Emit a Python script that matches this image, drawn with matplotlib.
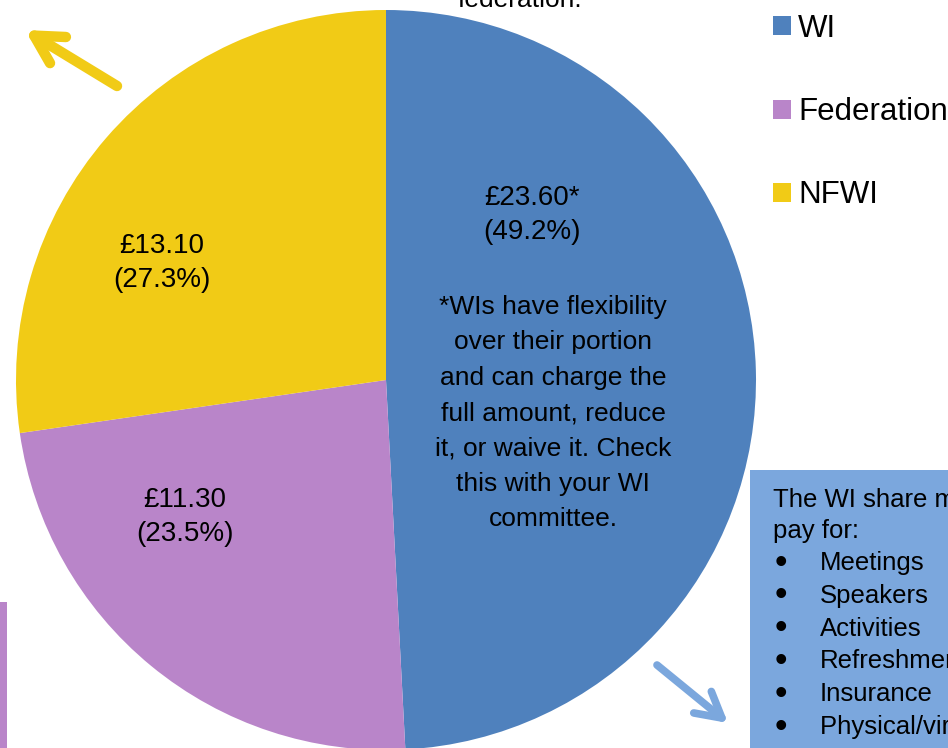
import matplotlib.pyplot as plt
from matplotlib.patches import Rectangle

plt.rcParams['font.family'] = ['Liberation Sans', 'DejaVu Sans']

# subscription split
shares = ['WI', 'Federation', 'NFWI']
amounts = [23.60, 11.30, 13.10]
colours = ['#4f81bd', '#b985c9', '#f1cb16']
note = ("*WIs have flexibility\nover their portion\nand can charge the\n"
        "full amount, reduce\nit, or waive it. Check\nthis with your WI\ncommittee.")
box_items = ['Meetings', 'Speakers', 'Activities', 'Refreshments', 'Insurance',
             'Physical/virtual venue']

W, H = 948, 748


def Y(y):
    # pixel row from the top -> data y
    return H - y


fig = plt.figure(figsize=(W / 100, H / 100), dpi=100)
ax = fig.add_axes([0, 0, 1, 1])

cx, cy, r = 386, 380, 370
wedges, _ = ax.pie(amounts, colors=colours, startangle=90, counterclock=False,
                   center=(cx, Y(cy)), radius=r, wedgeprops=dict(linewidth=0))

total = sum(amounts)
label_pos = {'WI': (532, 215), 'Federation': (185, 517), 'NFWI': (162, 263)}
for name, amt in zip(shares, amounts):
    star = '*' if name == 'WI' else ''
    x, y = label_pos[name]
    ax.text(x, Y(y), f"£{amt:.2f}{star}\n({amt / total * 100:.1f}%)",
            ha='center', va='center', fontsize=20, linespacing=1.42)

ax.text(553, Y(413), note, ha='center', va='center', fontsize=19, linespacing=1.6)

# cut-off text at the top
ax.text(520, Y(7), "federation.", ha='center', va='baseline', fontsize=19)

# purple strip at left edge
ax.add_patch(Rectangle((0, 0), 7, Y(602), color='#b985c9', lw=0))

# light blue info box
ax.add_patch(Rectangle((750, -20), 260, Y(470) + 20, color='#7ba7dd', lw=0))
ax.text(773, Y(500), "The WI share may", ha='left', va='center', fontsize=18.5)
ax.text(773, Y(531), "pay for:", ha='left', va='center', fontsize=18.5)
for i, item in enumerate(box_items):
    yy = Y(563 + i * 32.8)
    ax.text(775, yy, "•", ha='left', va='center', fontsize=26)
    ax.text(820, yy, item, ha='left', va='center', fontsize=18.5)

# arrows
ax.annotate('', xy=(25, Y(30)), xytext=(117, Y(86)),
            arrowprops=dict(arrowstyle='->,head_length=2.0,head_width=1.1',
                            color='#f1cb16', lw=7.5, shrinkA=0, shrinkB=0))
ax.annotate('', xy=(728, Y(723)), xytext=(657, Y(665)),
            arrowprops=dict(arrowstyle='->,head_length=1.8,head_width=1.0',
                            color='#7ba7dd', lw=5.5, shrinkA=0, shrinkB=0))

leg = ax.legend(wedges, shares, loc='upper left', bbox_to_anchor=(773 / W, 1 - 14 / H),
                frameon=False, fontsize=22.5, handlelength=0.56, handleheight=0.56,
                handletextpad=0.25, labelspacing=1.7, borderpad=0, borderaxespad=0)

ax.set_xlim(0, W)
ax.set_ylim(0, H)
ax.set_aspect('equal')
ax.axis('off')

fig.savefig('out.png', dpi=100)
